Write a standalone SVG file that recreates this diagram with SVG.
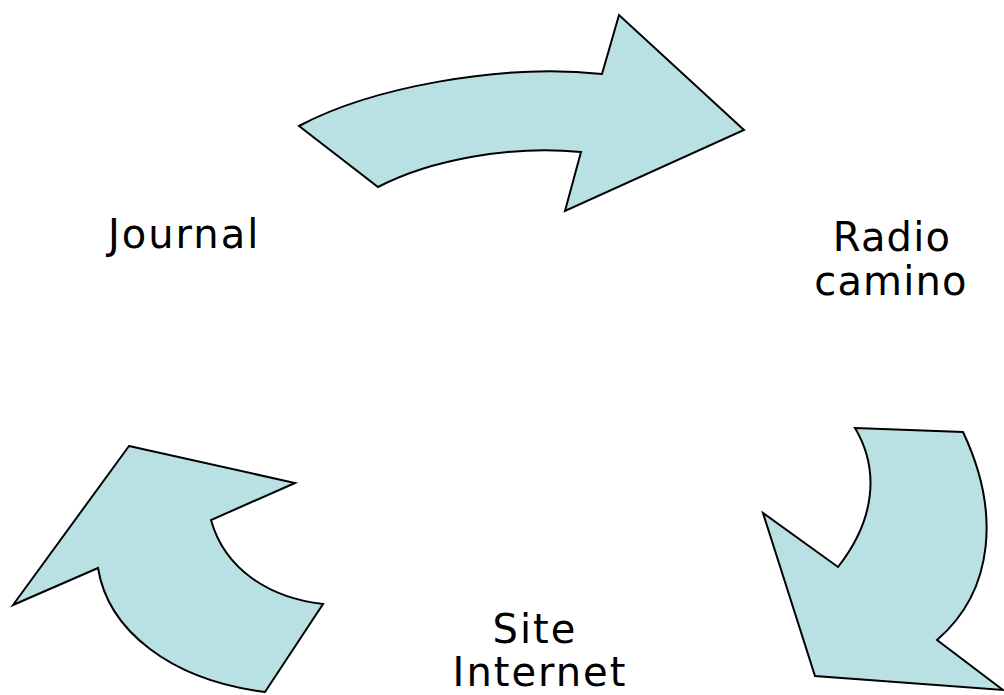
<svg xmlns="http://www.w3.org/2000/svg" width="1004" height="695" viewBox="0 0 1004 695">
<style>
.arrow{fill:#b9e0e3;stroke:#000;stroke-width:2;stroke-linejoin:miter}
.lbl{font-family:"DejaVu Sans",Verdana,sans-serif;font-size:40px;fill:#000;letter-spacing:2px}
.tight{letter-spacing:1.2px}
</style>
<rect width="1004" height="695" fill="#fff"/>
<g id="connectors">
<path id="arrow-top" class="arrow" d="M299,126 L378,187 C430,160 510,145 581,152 L565,211 L744,130 L619,15 L602,74 C500,63 370,88 299,126 Z"/>
<path id="arrow-right" class="arrow" d="M855,428 L963,432 C1000,510 995,590 937,640 L1003,690 L815,676 L763,513 L838,567 C875,520 880,470 855,428 Z"/>
<path id="arrow-left" class="arrow" d="M129,446 L295,483 L211,520 C225,570 270,598 323,604 L265,692 C170,680 108,630 98,568 L13,605 Z"/>
</g>
<g id="node-journal"><text class="lbl" x="108" y="248">Journal</text></g>
<g id="node-radio"><text class="lbl tight" text-anchor="middle" x="892" y="251">Radio</text><text class="lbl tight" text-anchor="middle" x="891" y="295">camino</text></g>
<g id="node-site"><text class="lbl" text-anchor="middle" x="535" y="643">Site</text><text class="lbl" text-anchor="middle" x="540" y="686">Internet</text></g>
</svg>
